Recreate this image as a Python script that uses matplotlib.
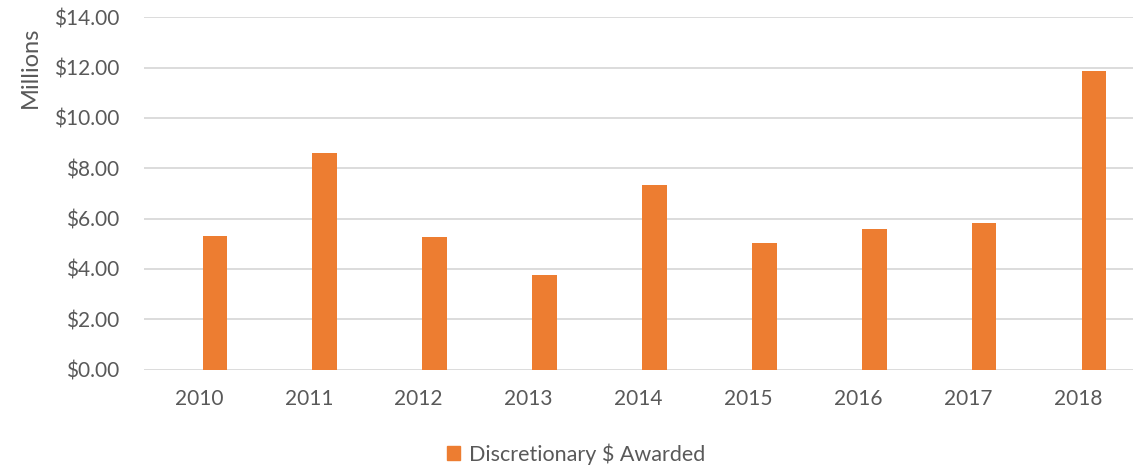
"""bar chart of discretionary dollars awarded per year"""

import matplotlib
matplotlib.use('Agg')
import matplotlib.pyplot as plt
from matplotlib.ticker import FuncFormatter
from matplotlib.patches import Patch

years = ['2010', '2011', '2012', '2013', '2014', '2015', '2016', '2017', '2018']
awarded = [5.31, 8.61, 5.26, 3.75, 7.35, 5.03, 5.58, 5.83, 11.87]  # millions

plt.rcParams['font.family'] = ['Lato', 'DejaVu Sans']
TEXT = '#595959'
ORANGE = '#ED7D31'

fig = plt.figure(figsize=(11.45, 4.69), dpi=100)
ax = fig.add_axes([144 / 1145, 1 - 369.5 / 469, 989 / 1145, 352.2 / 469])

# bar sits right of the category centre (empty first series in the source)
x = list(range(len(years)))
ax.bar([i + 0.145 for i in x], awarded, width=0.225, color=ORANGE, zorder=3)

ax.set_xlim(-0.5, len(years) - 0.5)
ax.set_ylim(0, 14)
ax.set_yticks(range(0, 15, 2))
ax.yaxis.set_major_formatter(FuncFormatter(lambda v, pos: "${:.2f}".format(v)))
ax.set_xticks(x)
ax.set_xticklabels(years)

ax.grid(axis='y', color='#D9D9D9', linewidth=1.3, zorder=0)
for side in ['top', 'right', 'left', 'bottom']:
    ax.spines[side].set_visible(False)
ax.tick_params(axis='both', length=0, colors=TEXT, labelsize=15)
ax.tick_params(axis='x', pad=14)
ax.tick_params(axis='y', pad=18)

fig.text(30.5 / 1145, 1 - 67 / 469, 'Millions', rotation=90, color=TEXT,
         fontsize=17, ha='center', va='center')

fig.legend(handles=[Patch(color=ORANGE, label='Discretionary $ Awarded')],
           loc='center', bbox_to_anchor=(576 / 1145, 1 - 454 / 469),
           frameon=False, fontsize=15.5, labelcolor=TEXT,
           handlelength=0.6, handleheight=0.6, handletextpad=0.4)

fig.savefig('out.png', dpi=100)
